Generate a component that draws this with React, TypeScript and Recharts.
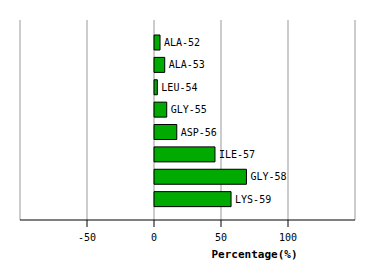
import { BarChart, Bar, XAxis, YAxis, CartesianGrid, LabelList, Label } from "recharts"

const residues = ["ALA-52", "ALA-53", "LEU-54", "GLY-55", "ASP-56", "ILE-57", "GLY-58", "LYS-59"]
const percentages = [4.5, 8, 2.5, 9.5, 17, 45.5, 69, 57.5]
const xTicks = [-50, 0, 50, 100]

const data = residues.map((name, i) => ({ name, value: percentages[i] }))

const mono = "'DejaVu Sans Mono', monospace"

export default function App() {
  return (
    <div style={{ position: "absolute", left: 0, top: 0, background: "#fff" }}>
      <BarChart
        width={374}
        height={280}
        data={data}
        layout="vertical"
        margin={{ top: 20, right: 19, left: 20, bottom: 20 }}
      >
        <CartesianGrid horizontal={false} stroke="#999" />

        <XAxis
          type="number"
          domain={[-100, 150]}
          ticks={xTicks}
          height={40}
          axisLine={{ stroke: "#000" }}
          tickLine={{ stroke: "#000" }}
          tickSize={7}
          tickMargin={7}
          tick={{ fill: "#000", fontSize: 10, fontFamily: mono }}
        >
          <Label
            value="Percentage(%)"
            position="insideBottom"
            offset={0}
            dx={67}
            dy={-2}
            fill="#000"
            fontSize={11}
            fontWeight="bold"
            fontFamily={mono}
          />
        </XAxis>

        <YAxis type="category" dataKey="name" hide padding={{ top: 11, bottom: 10 }} />

        {/* residue bars */}
        <Bar
          dataKey="value"
          fill="#00aa00"
          stroke="#000"
          strokeWidth={1}
          barSize={15}
          isAnimationActive={false}
        >
          <LabelList
            dataKey="name"
            position="right"
            offset={4}
            fill="#000"
            fontSize={10}
            fontFamily={mono}
          />
        </Bar>
      </BarChart>
    </div>
  )
}
